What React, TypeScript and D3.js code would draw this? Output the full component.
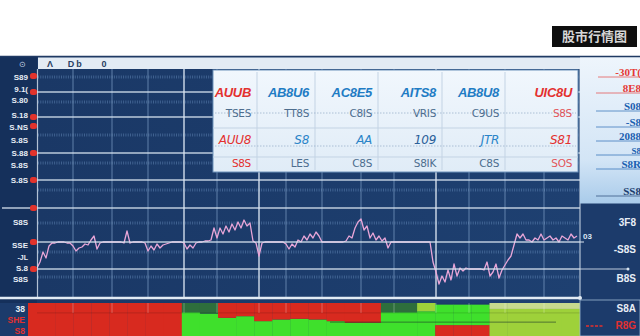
import React from "react";
import * as d3 from "d3";

// ---------- DATA ----------
const prices = [
  2.30, 2.36, 2.46, 2.40, 2.52, 2.55, 2.55, 2.56, 2.56, 2.56,
  2.55, 2.55, 2.52, 2.47, 2.50, 2.51, 2.54, 2.53, 2.58, 2.62,
  2.49, 2.55, 2.56, 2.56, 2.56, 2.56, 2.56, 2.56, 2.56, 2.55,
  2.67, 2.55, 2.56, 2.56, 2.56, 2.56, 2.55, 2.47, 2.52, 2.48,
  2.54, 2.50, 2.53, 2.54, 2.55, 2.56, 2.56, 2.56, 2.56, 2.55,
  2.49, 2.53, 2.50, 2.55, 2.56, 2.56, 2.57, 2.57, 2.58, 2.70,
  2.60, 2.70, 2.64, 2.72, 2.66, 2.74, 2.68, 2.76, 2.70, 2.78,
  2.72, 2.75, 2.57, 2.55, 2.42, 2.55, 2.56, 2.56, 2.56, 2.56,
  2.56, 2.56, 2.56, 2.54, 2.49, 2.54, 2.51, 2.58, 2.56, 2.62,
  2.58, 2.64, 2.60, 2.66, 2.62, 2.56, 2.56, 2.56, 2.56, 2.56,
  2.56, 2.56, 2.56, 2.57, 2.62, 2.60, 2.70, 2.76, 2.79, 2.68,
  2.72, 2.60, 2.65, 2.58, 2.62, 2.57, 2.60, 2.50, 2.56, 2.56,
  2.56, 2.56, 2.56, 2.56, 2.56, 2.56, 2.56, 2.56, 2.56, 2.56,
  2.56, 2.56, 2.36, 2.26, 2.14, 2.22, 2.16, 2.28, 2.18, 2.34,
  2.22, 2.30, 2.27, 2.30, 2.29, 2.29, 2.29, 2.29, 2.29, 2.28,
  2.36, 2.22, 2.26, 2.34, 2.20, 2.28, 2.33, 2.38, 2.42, 2.53,
  2.64, 2.60, 2.64, 2.58, 2.58, 2.56, 2.60, 2.58, 2.64, 2.58,
  2.60, 2.62, 2.58, 2.60, 2.56, 2.62, 2.60, 2.58, 2.64, 2.60,
  2.62,
];

const gridMajor = [4.06, 3.81, 3.45, 3.18, 2.9, 2.56, 2.29];
const gridMinor = [4.21, 3.96, 3.63, 3.35, 3.08, 2.75, 2.46, 2.21];
const xTicks = [12, 25, 37, 49, 60, 74, 83, 95, 108, 119, 133, 144, 156, 169];
const xTicksBright = [49, 74, 133];

const headerMarkIdx = [4.3, 11.3, 14, 22.3];
const headerMarkText = ["Λ", "D", "b", "0"];

const leftLabelText = ["S89", "9.1(", "S.80", "S.18", "S.NS", "S.8S", "S.88", "S.8S", "S.8S", "S8S", "SSE", "-JL", "S.8", "S8S"];
const leftLabelValue = [4.21, 4.09, 3.98, 3.83, 3.71, 3.58, 3.45, 3.33, 3.18, 2.76, 2.53, 2.415, 2.3, 2.19];
const leftMarkerValue = [4.22, 4.06, 3.81, 3.72, 3.45, 3.18, 2.9, 2.56, 2.29];

const rightLabelText = ["3F8", "-S8S", "B8S"];
const rightLabelValue = [2.76, 2.49, 2.2];

const sideText = ["-30T(", "8E8", "S08", "-S8", "2088", "S8", "S8R", "SS8"];
const sideValue = [4.25, 4.09, 3.91, 3.75, 3.61, 3.47, 3.33, 3.06];
const sideKind = ["red", "red", "blue", "blue", "blue", "blue", "blue", "navy"];

const tableHead = ["AUUB", "AB8U6", "AC8E5", "AITS8", "AB8U8", "UIC8U"];
const tableRow2 = ["TSES", "TT8S", "C8IS", "VRIS", "C9US", "S8S"];
const tableRow3 = ["AUU8", "S8", "AA", "109", "JTR", "S81"];
const tableRow4 = ["S8S", "LES", "C8S", "S8IK", "C8S", "SOS"];

const volBottom = [100, 100, 100, 100, 100, 100, 100, 100, 72, 68, 55, 60, 45, 50, 52, 50, 45, 40, 40, 72, 72, 75, 33, 33, 33, 82, 82, 82, 82, 82];
const bottomKind = ["down", "down", "down", "down", "down", "down", "down", "down", "up", "up", "up", "up", "up", "up", "up", "up", "up", "up", "up", "up", "up", "up", "down", "down", "down", "flat", "flat", "flat", "flat", "flat"];
const volTop = [0, 0, 0, 0, 0, 0, 0, 0, 28, 32, 45, 40, 55, 50, 48, 50, 55, 60, 60, 28, 28, 25, 62, 62, 62, 18, 18, 18, 18, 18];
const topKind = ["down", "down", "down", "down", "down", "down", "down", "down", "dark", "dark", "down", "down", "down", "down", "down", "down", "down", "down", "down", "dark", "dark", "flat", "up", "up", "up", "pale", "pale", "pale", "pale", "pale"];

const volLeftText = ["38", "SHE", "S8"];
const volLeftValue = [82, 48, 15];
const volRightText = ["S8A", "R8G"];
const volRightValue = [85, 33];

const titleText = "股市行情图";

// ---------- STYLE ----------
const C = {
  navy: "#1c3b6b",
  navyDark: "#15305b",
  grid: "#d9e4f0",
  gridFaint: "#8fb0d6",
  dots: "#6d93c2",
  line: "#e9a6d8",
  red: "#e3302f",
  blue: "#1f74bd",
  marker: "#e2332c",
};
const volColor: Record<string, string> = {
  down: "#d82a1f",
  up: "#3fe02c",
  dark: "#2e6e3c",
  flat: "#9ed13a",
  pale: "#c7da8e",
};
const sideColor: Record<string, string> = { red: "#e53935", blue: "#1a5fb0", navy: "#1d3c6c" };
const colWidths = [44, 58, 63, 64, 63, 73];
const FONT = "'Liberation Sans', Arial, sans-serif";

export default function App() {
  const W = 640, H = 336;
  const x = d3.scaleLinear().domain([0, prices.length - 1]).range([37, 577]);
  const y = d3.scaleLinear().domain([2.0, 4.3]).range([298, 68]);
  const vx = d3.scaleBand<number>().domain(d3.range(volBottom.length)).range([37, 580]).padding(0);
  const vy = d3.scaleLinear().domain([0, 100]).range([336, 303]);
  const linePath = d3.line<number>().x((_, i) => x(i)).y((d) => y(d))(prices) || "";

  const tX0 = 213, tX1 = 578, tY0 = 70, tY1 = 172;
  const colEdges = [tX0];
  colWidths.forEach((w) => colEdges.push(colEdges[colEdges.length - 1] + w));
  const rows = [tableHead, tableRow2, tableRow3, tableRow4];
  const rowY = [97, 117, 144, 167];
  const rowSize = [13, 10.5, 12, 10.5];
  const rowItalic = [true, false, true, false];
  const cellColor = (r: number, c: number) => {
    if (c === 5) return r === 1 || r === 3 ? "#e2555a" : C.red;
    if (c === 0) return r === 1 ? "#4d6d8e" : C.red;
    if (r === 0) return "#1f7cc4";
    if (r === 2) return c === 3 ? "#2b5f99" : "#2a84c8";
    return "#4d6d8e";
  };

  return (
    <svg width={W} height={H} style={{ position: "fixed", left: 0, top: 0, display: "block" }}>
      <defs>
        <linearGradient id="plotbg" x1="0" x2="1" y1="0" y2="0">
          <stop offset="0" stopColor="#1a3866" />
          <stop offset="1" stopColor="#1e4071" />
        </linearGradient>
        <linearGradient id="sidebg" x1="0" x2="0" y1="0" y2="1">
          <stop offset="0" stopColor="#eef5fc" />
          <stop offset="0.7" stopColor="#d3e5f6" />
          <stop offset="1" stopColor="#a9cbea" />
        </linearGradient>
        <linearGradient id="tablebg" x1="0" x2="0" y1="0" y2="1">
          <stop offset="0" stopColor="#f1f7fd" />
          <stop offset="1" stopColor="#e0ecf7" />
        </linearGradient>
      </defs>
      <rect x={0} y={0} width={W} height={H} fill="#ffffff" />

      {/* title box */}
      <rect x={552} y={26} width={85} height={21} fill="#0e0e0e" />
      <text x={594.5} y={41} textAnchor="middle" fill="#d6d6d6" fontSize={13} fontWeight={700}
        style={{ fontFamily: "'Noto Sans CJK SC', sans-serif" }}>{titleText}</text>

      {/* panels */}
      <rect x={0} y={57} width={W} height={H - 57} fill={C.navy} />
      <rect x={37} y={57} width={543} height={246} fill="url(#plotbg)" />
      <rect x={0} y={57} width={37} height={246} fill={C.navyDark} />
      <line x1={0} x2={W} y1={56.5} y2={56.5} stroke="#203a63" strokeWidth={1.5} />

      {/* minor dotted rows */}
      {gridMinor.map((v, i) => (
        <line key={"mn" + i} x1={38} x2={579} y1={y(v)} y2={y(v)} stroke={C.dots}
          strokeWidth={3} strokeDasharray="1 1.3" opacity={0.45} />
      ))}

      {/* vertical grid */}
      {xTicks.map((t, i) => (
        <line key={"vx" + i} x1={x(t)} x2={x(t)} y1={69} y2={298}
          stroke={xTicksBright.includes(t) ? C.grid : C.gridFaint}
          strokeWidth={xTicksBright.includes(t) ? 1.5 : 1}
          opacity={xTicksBright.includes(t) ? 0.9 : 0.6} />
      ))}

      {/* price line */}
      <path d={linePath} fill="none" stroke={C.line} strokeWidth={1.3} strokeLinejoin="round" />

      {/* major grid */}
      {gridMajor.map((v, i) => (
        <line key={"mj" + i} x1={v === 2.9 ? 2 : 37} x2={580} y1={y(v)} y2={y(v)} stroke={C.grid}
          strokeWidth={1.5} opacity={0.85} />
      ))}
      <line x1={580} x2={628} y1={y(2.29)} y2={y(2.29)} stroke={C.grid} strokeWidth={1} opacity={0.85} />
      <circle cx={628} cy={y(2.29)} r={1.5} fill={C.grid} />
      <line x1={580} x2={584} y1={y(2.56)} y2={y(2.56)} stroke={C.grid} strokeWidth={1} />
      <text x={583} y={y(2.56) - 3} fill="#dbe6f2" fontSize={8} fontWeight={700} style={{ fontFamily: FONT }}>03</text>
      <line x1={37.5} x2={37.5} y1={69} y2={298} stroke={C.grid} strokeWidth={1.2} opacity={0.8} />
      <line x1={580} x2={580} y1={69} y2={298} stroke={C.grid} strokeWidth={1.2} opacity={0.8} />
      <line x1={0} x2={581} y1={298} y2={298} stroke="#e2ebf4" strokeWidth={2.5} />
      <circle cx={580} cy={298} r={2} fill="#e2ebf4" />

      {/* header strip */}
      <rect x={38} y={57.5} width={602} height={11.5} fill="#e3ebf4" />
      {headerMarkIdx.map((t, i) => (
        <text key={"hm" + i} x={x(t)} y={66.5} textAnchor="middle" fill="#2a3f63" fontSize={9} fontWeight={700}
          style={{ fontFamily: FONT }}>{headerMarkText[i]}</text>
      ))}
      <text x={22} y={67} textAnchor="middle" fill="#c9d6e6" fontSize={8} style={{ fontFamily: FONT }}>⊙</text>

      {/* left axis labels & markers */}
      {leftLabelText.map((t, i) => (
        <text key={"ll" + i} x={28} y={y(leftLabelValue[i]) + 3} textAnchor="end" fill="#e8eef6"
          fontSize={t === "-JL" ? 7 : 8} fontWeight={700} style={{ fontFamily: FONT }}>{t}</text>
      ))}
      {leftMarkerValue.map((v, i) => (
        <rect key={"lm" + i} x={30} y={y(v) - 3} width={7} height={6} rx={2.5} fill={C.marker} />
      ))}

      {/* right side light panel */}
      <rect x={580} y={57.5} width={60} height={146} fill="url(#sidebg)" />
      {sideText.map((t, i) => (
        <g key={"st" + i}>
          <line x1={i === 0 ? 598 : 596} x2={640} y1={y(sideValue[i]) + 4} y2={y(sideValue[i]) + 4}
            stroke={sideColor[sideKind[i]]} strokeWidth={0.8} opacity={0.8} />
          <text x={641} y={y(sideValue[i]) + 3} textAnchor="end" fill={sideColor[sideKind[i]]}
            fontSize={i === 4 ? 11 : i === 5 ? 9 : 11} fontWeight={700}
            style={{ fontFamily: "'Liberation Serif', serif" }}>{t}</text>
        </g>
      ))}
      {rightLabelText.map((t, i) => (
        <text key={"rl" + i} x={636} y={y(rightLabelValue[i]) + 4} textAnchor="end" fill="#e8eef6" fontSize={10}
          fontWeight={700} style={{ fontFamily: FONT }}>{t}</text>
      ))}

      {/* table overlay */}
      <rect x={tX0} y={tY0} width={tX1 - tX0} height={tY1 - tY0} fill="url(#tablebg)" stroke="#6f93bb" strokeWidth={1} />
      {colEdges.slice(1, -1).map((cx, i) => (
        <line key={"tc" + i} x1={cx} x2={cx} y1={tY0 + 2} y2={tY1 - 2} stroke="#c3d3e4" strokeWidth={1} />
      ))}
      <line x1={tX0 + 2} x2={tX1 - 2} y1={113} y2={113} stroke="#9db3cb" strokeWidth={0.8} strokeDasharray="1.5 1.5" />
      <line x1={tX0} x2={tX1} y1={128} y2={128} stroke="#c3d3e4" strokeWidth={1} />
      <line x1={tX0 + 2} x2={tX1 - 2} y1={146} y2={146} stroke="#9db3cb" strokeWidth={0.8} strokeDasharray="1.5 1.5" />
      <line x1={tX0} x2={tX1} y1={157} y2={157} stroke="#c3d3e4" strokeWidth={1} />
      {rows.map((row, r) =>
        row.map((t, c) => (
          <text key={"tt" + r + c} x={colEdges[c + 1] - 6} y={rowY[r]} textAnchor="end" fill={cellColor(r, c)}
            fontSize={rowSize[r]} fontStyle={rowItalic[r] ? "italic" : "normal"} fontWeight={r === 0 ? 700 : 400}
            letterSpacing={-0.3} style={{ fontFamily: r === 0 ? FONT : "'DejaVu Sans', sans-serif" }}>{t}</text>
        ))
      )}

      {/* volume */}
      <rect x={28} y={303} width={9} height={33} fill={volColor.down} />
      {volBottom.map((v, i) => (
        <g key={"vb" + i}>
          <rect x={vx(i)!} y={vy(v)} width={vx.bandwidth() + 0.3} height={vy(0) - vy(v)} fill={volColor[bottomKind[i]]} />
          {volTop[i] > 0 && (
            <rect x={vx(i)!} y={vy(v + volTop[i])} width={vx.bandwidth() + 0.3}
              height={vy(v) - vy(v + volTop[i])} fill={volColor[topKind[i]]} />
          )}
        </g>
      ))}
      <line x1={37} x2={580} y1={vy(70)} y2={vy(70)} stroke="#000" strokeWidth={0.8} opacity={0.18} />
      <line x1={330} x2={556} y1={vy(42)} y2={vy(42)} stroke="#1d3a2a" strokeWidth={1} opacity={0.6} />
      {xTicks.map((t, i) => (
        <line key={"vv" + i} x1={x(t)} x2={x(t)} y1={303} y2={vy(70)} stroke="#ffffff" strokeWidth={0.8} opacity={0.35} />
      ))}
      {volLeftText.map((t, i) => (
        <text key={"vl" + i} x={25} y={vy(volLeftValue[i]) + 3} textAnchor="end" fill={i === 0 ? "#e8eef6" : C.red}
          fontSize={8.5} fontWeight={700} style={{ fontFamily: FONT }}>{t}</text>
      ))}
      <rect x={580} y={300} width={60} height={36} fill={C.navy} stroke="#9fb8d3" strokeWidth={0.8} />
      {volRightText.map((t, i) => (
        <text key={"vr" + i} x={636} y={vy(volRightValue[i]) + 4} textAnchor="end" fill={i === 0 ? "#e8eef6" : C.red}
          fontSize={10} fontWeight={700} style={{ fontFamily: FONT }}>{t}</text>
      ))}
      <line x1={586} x2={603} y1={vy(33) + 1} y2={vy(33) + 1} stroke={C.red} strokeWidth={1.5} strokeDasharray="3 1.5" />
    </svg>
  );
}
